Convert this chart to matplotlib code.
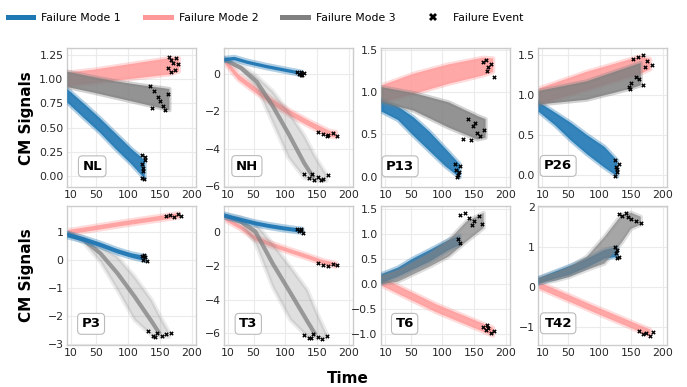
import matplotlib
matplotlib.use("Agg")
import matplotlib.pyplot as plt
from matplotlib.lines import Line2D

# ---------------- data ----------------
MODE_NAMES = ["Failure Mode 1", "Failure Mode 2", "Failure Mode 3", "Failure Event"]
PANEL_NAMES = ["NL", "NH", "P13", "P26", "P3", "T3", "T6", "T42"]
X_TICKS = [10, 50, 100, 150, 200]

# each band: (time, lower envelope, upper envelope)
NL_M1 = ([4, 30, 55, 80, 105, 126], [0.76, 0.60, 0.45, 0.28, 0.12, -0.03], [0.90, 0.75, 0.60, 0.44, 0.28, 0.16])
NL_M2 = ([4, 45, 85, 125, 165, 180], [0.93, 0.96, 0.99, 1.02, 1.05, 1.08], [1.07, 1.10, 1.14, 1.18, 1.22, 1.22])
NL_M3 = ([4, 40, 80, 120, 165], [0.92, 0.87, 0.81, 0.75, 0.68], [1.08, 1.03, 0.98, 0.94, 0.90])
NL_FAIL_T = [121, 122, 124, 121, 126, 123, 125, 127, 164, 167, 171, 176, 168, 163, 179, 173, 134, 141, 147, 150, 155, 163, 138, 158]
NL_FAIL_Y = [0.22, 0.12, 0.05, -0.02, 0.16, 0.08, -0.03, 0.19, 1.23, 1.20, 1.17, 1.22, 1.08, 1.12, 1.16, 1.10, 0.93, 0.88, 0.82, 0.78, 0.72, 0.85, 0.70, 0.68]

NH_M1 = ([4, 20, 40, 70, 100, 126], [0.71, 0.76, 0.56, 0.33, 0.13, -0.04], [0.89, 0.94, 0.74, 0.51, 0.31, 0.14])
NH_M2 = ([4, 26, 53, 80, 108, 140, 170, 180], [0.60, -0.30, -1.00, -1.65, -2.25, -2.85, -3.35, -3.40], [0.90, 0.00, -0.70, -1.35, -1.95, -2.55, -3.05, -3.10])
NH_M3 = ([4, 30, 55, 80, 105, 130, 150, 165], [0.75, 0.20, -0.70, -2.60, -4.50, -5.60, -5.75, -5.75], [0.85, 0.50, -0.10, -0.90, -2.00, -3.30, -4.60, -5.40])
NH_M3_CORE = ([4, 30, 55, 80, 105, 130, 145], [0.80, 0.35, -0.40, -1.70, -3.20, -4.80, -5.60])
NH_FAIL_T = [119, 122, 125, 127, 129, 124, 152, 160, 168, 175, 182, 165, 130, 138, 145, 152, 160, 167, 142, 156]
NH_FAIL_Y = [0.10, 0.02, 0.12, -0.03, 0.05, -0.04, -3.10, -3.20, -3.25, -3.15, -3.30, -3.35, -5.40, -5.60, -5.70, -5.55, -5.65, -5.45, -5.35, -5.70]

P13_M1 = ([4, 30, 55, 80, 105, 127], [0.77, 0.67, 0.48, 0.30, 0.12, -0.01], [0.91, 0.83, 0.70, 0.53, 0.33, 0.15])
P13_M2 = ([4, 55, 110, 165, 180], [0.88, 0.98, 1.10, 1.20, 1.24], [1.08, 1.22, 1.33, 1.41, 1.40])
P13_M3 = ([4, 55, 110, 155, 168], [0.88, 0.78, 0.58, 0.44, 0.46], [1.06, 0.99, 0.88, 0.72, 0.68])
P13_FAIL_T = [120, 122, 125, 127, 123, 126, 164, 168, 172, 176, 181, 170, 133, 140, 148, 155, 160, 165, 145, 152]
P13_FAIL_Y = [0.15, 0.08, 0.02, 0.12, -0.01, 0.05, 1.36, 1.38, 1.30, 1.33, 1.18, 1.25, 0.45, 0.68, 0.60, 0.52, 0.48, 0.55, 0.43, 0.63]

P26_M1 = ([4, 30, 55, 80, 108, 128], [0.79, 0.62, 0.43, 0.26, 0.09, -0.02], [0.91, 0.78, 0.65, 0.50, 0.35, 0.18])
P26_M2 = ([4, 80, 163, 180], [0.88, 1.06, 1.26, 1.32], [1.08, 1.29, 1.48, 1.45])
P26_M3 = ([4, 80, 150, 165], [0.88, 0.94, 1.08, 1.12], [1.05, 1.17, 1.36, 1.40])
P26_FAIL_T = [124, 126, 128, 130, 125, 127, 152, 160, 168, 175, 182, 171, 146, 150, 157, 163, 168, 148]
P26_FAIL_Y = [0.18, 0.10, 0.03, 0.14, -0.02, 0.07, 1.45, 1.48, 1.50, 1.42, 1.38, 1.35, 1.10, 1.15, 1.23, 1.20, 1.12, 1.08]

P3_M1 = ([4, 30, 56, 83, 105, 127], [0.80, 0.64, 0.45, 0.22, 0.07, -0.05], [0.96, 0.80, 0.61, 0.38, 0.23, 0.13])
P3_M2 = ([4, 90, 180], [0.89, 1.20, 1.50], [1.05, 1.36, 1.66])
P3_M3 = ([4, 30, 56, 83, 110, 137, 150, 165], [0.90, 0.60, -0.07, -1.08, -2.15, -2.70, -2.75, -2.75], [0.98, 0.80, 0.47, 0.11, -0.60, -1.43, -2.00, -2.60])
P3_M3_CORE = ([4, 30, 56, 83, 110, 137, 150], [0.94, 0.70, 0.23, -0.48, -1.31, -2.20, -2.65])
P3_FAIL_T = [121, 124, 127, 129, 125, 160, 166, 172, 178, 184, 132, 139, 146, 153, 160, 167, 142]
P3_FAIL_Y = [0.12, 0.00, 0.08, -0.05, 0.16, 1.55, 1.60, 1.52, 1.62, 1.57, -2.55, -2.70, -2.60, -2.72, -2.65, -2.62, -2.74]

T3_M1 = ([4, 30, 53, 75, 97, 127], [0.83, 0.58, 0.37, 0.21, 0.08, -0.07], [1.07, 0.82, 0.61, 0.45, 0.32, 0.17])
T3_M2 = ([4, 30, 53, 80, 108, 135, 160, 180], [0.68, 0.13, -0.51, -0.91, -1.27, -1.60, -1.92, -2.07], [0.92, 0.37, -0.27, -0.67, -1.03, -1.36, -1.68, -1.83])
T3_M3 = ([4, 30, 53, 80, 108, 135, 150, 165], [0.90, 0.45, -0.69, -3.25, -5.20, -6.20, -6.30, -6.30], [1.00, 0.85, 0.49, -0.70, -2.07, -3.44, -4.80, -6.00])
T3_M3_CORE = ([4, 30, 53, 80, 108, 135, 148], [0.95, 0.60, 0.00, -1.87, -3.60, -5.30, -6.10])
T3_FAIL_T = [119, 122, 125, 128, 124, 152, 160, 168, 175, 182, 130, 137, 144, 151, 158, 165, 141]
T3_FAIL_Y = [0.15, 0.02, 0.10, -0.05, 0.18, -1.85, -1.95, -2.00, -1.90, -1.97, -6.10, -6.25, -6.05, -6.20, -6.30, -6.15, -6.28]

T6_M1 = ([4, 30, 55, 80, 110, 127], [0.02, 0.15, 0.30, 0.45, 0.68, 0.78], [0.20, 0.33, 0.52, 0.68, 0.88, 0.97])
T6_M2 = ([4, 90, 180], [-0.03, -0.56, -1.03], [0.13, -0.40, -0.87])
T6_M3 = ([4, 30, 55, 80, 110, 138, 165], [0.00, 0.05, 0.20, 0.35, 0.55, 0.85, 1.12], [0.17, 0.28, 0.45, 0.62, 0.88, 1.25, 1.42])
T6_FAIL_T = [125, 127, 164, 168, 172, 177, 181, 170, 128, 135, 142, 150, 157, 163, 146]
T6_FAIL_Y = [0.90, 0.82, -0.85, -0.92, -0.88, -0.97, -0.94, -0.81, 1.38, 1.41, 1.32, 1.25, 1.36, 1.20, 1.18]

T42_M1 = ([4, 30, 53, 80, 108, 128], [0.08, 0.20, 0.30, 0.48, 0.70, 0.75], [0.22, 0.38, 0.52, 0.70, 0.92, 1.00])
T42_M2 = ([4, 90, 180], [-0.04, -0.63, -1.23], [0.12, -0.47, -1.07])
T42_M3 = ([4, 30, 53, 80, 108, 135, 150, 165], [0.08, 0.15, 0.25, 0.42, 0.58, 1.10, 1.45, 1.55], [0.22, 0.35, 0.50, 0.75, 1.25, 1.80, 1.85, 1.75])
T42_FAIL_T = [124, 126, 128, 130, 127, 163, 168, 174, 180, 184, 131, 136, 141, 150, 158, 165, 145]
T42_FAIL_Y = [1.00, 0.85, 0.92, 0.75, 0.72, -1.10, -1.18, -1.15, -1.22, -1.12, 1.83, 1.78, 1.85, 1.70, 1.65, 1.60, 1.75]

NL_YTICKS = [0.0, 0.25, 0.5, 0.75, 1.0, 1.25]
NH_YTICKS = [-6, -4, -2, 0]
P13_YTICKS = [0.0, 0.5, 1.0, 1.5]
P26_YTICKS = [0.0, 0.5, 1.0, 1.5]
P3_YTICKS = [-3, -2, -1, 0, 1]
T3_YTICKS = [-6, -4, -2, 0]
T6_YTICKS = [-1.0, -0.5, 0.0, 0.5, 1.0, 1.5]
T42_YTICKS = [-1, 0, 1, 2]

# ---------------- styling ----------------
C_BLUE = "#1f77b4"
C_PINK = "#ff9999"
C_GREY = "#808080"
FS = 7.8

panels = [
    ("NL", NL_M1, NL_M2, NL_M3, None, NL_FAIL_T, NL_FAIL_Y, NL_YTICKS, (-0.115, 1.325), "{:.2f}", (0.196, 0.148)),
    ("NH", NH_M1, NH_M2, NH_M3, NH_M3_CORE, NH_FAIL_T, NH_FAIL_Y, NH_YTICKS, (-6.07, 1.42), "{:.0f}", (0.177, 0.15)),
    ("P13", P13_M1, P13_M2, P13_M3, None, P13_FAIL_T, P13_FAIL_Y, P13_YTICKS, (-0.122, 1.524), "{:.1f}", (0.147, 0.148)),
    ("P26", P26_M1, P26_M2, P26_M3, None, P26_FAIL_T, P26_FAIL_Y, P26_YTICKS, (-0.15, 1.587), "{:.1f}", (0.154, 0.151)),
    ("P3", P3_M1, P3_M2, P3_M3, P3_M3_CORE, P3_FAIL_T, P3_FAIL_Y, P3_YTICKS, (-3.03, 1.915), "{:.0f}", (0.187, 0.151)),
    ("T3", T3_M1, T3_M2, T3_M3, T3_M3_CORE, T3_FAIL_T, T3_FAIL_Y, T3_YTICKS, (-6.67, 1.52), "{:.0f}", (0.188, 0.151)),
    ("T6", T6_M1, T6_M2, T6_M3, None, T6_FAIL_T, T6_FAIL_Y, T6_YTICKS, (-1.21, 1.56), "{:.1f}", (0.182, 0.151)),
    ("T42", T42_M1, T42_M2, T42_M3, None, T42_FAIL_T, T42_FAIL_Y, T42_YTICKS, (-1.45, 2.02), "{:.0f}", (0.154, 0.155)),
]

fig, axes = plt.subplots(2, 4, figsize=(6.87, 3.87), dpi=100)
fig.subplots_adjust(left=0.0975, right=0.971, top=0.876, bottom=0.109, wspace=0.22, hspace=0.137)


def band(ax, data, color, alpha, z, fringe=0.35):
    t, lo, hi = data
    # soft fringe imitating the scatter of the individual noisy trajectories
    ax.fill_between(t, lo, hi, facecolor="none", edgecolor=color, linewidth=3.0,
                    alpha=fringe, zorder=z)
    ax.fill_between(t, lo, hi, facecolor=color, edgecolor="none", linewidth=0,
                    alpha=alpha, zorder=z)


for ax, (name, m1, m2, m3, core, ft, fy, yt, yl, fmt, lpos) in zip(axes.flat, panels):
    spaghetti = core is not None
    band(ax, m2, C_PINK, 0.85, 2)
    if spaghetti:
        band(ax, m3, C_GREY, 0.25, 3, fringe=0.15)
        ax.plot(core[0], core[1], color=C_GREY, lw=3.0, alpha=0.75, zorder=3.5,
                solid_capstyle="butt")
        band(ax, m1, C_BLUE, 0.95, 4)
    elif name in ("T6", "T42"):
        band(ax, m1, C_BLUE, 0.9, 3)
        band(ax, m3, C_GREY, 0.7, 4, fringe=0.25)
    else:
        band(ax, m1, C_BLUE, 0.9, 3)
        band(ax, m3, C_GREY, 0.85, 4)
    ax.scatter(ft, fy, marker="X", s=10, color="black", linewidths=0, zorder=6)

    ax.set_xlim(3.5, 206.5)
    ax.set_ylim(*yl)
    ax.set_xticks(X_TICKS)
    ax.set_yticks(yt)
    ax.set_yticklabels([fmt.format(v).replace("-", "\u2212") for v in yt])
    ax.tick_params(axis="both", length=0, labelsize=FS, pad=2.5, colors="#262626")
    ax.grid(True, color="#ebebeb", lw=0.8, zorder=0)
    ax.set_axisbelow(True)
    for sp in ax.spines.values():
        sp.set_color("#cccccc")
        sp.set_linewidth(1.0)
    ax.text(lpos[0], lpos[1], name, transform=ax.transAxes, ha="center", va="center",
            fontsize=9.5, fontweight="bold", zorder=7,
            bbox=dict(boxstyle="round,pad=0.3", fc="white", ec="#bbbbbb", lw=0.8))

fig.text(0.039, 0.695, "CM Signals", rotation=90, ha="center", va="center",
         fontsize=11, fontweight="bold")
fig.text(0.039, 0.288, "CM Signals", rotation=90, ha="center", va="center",
         fontsize=11, fontweight="bold")
fig.text(0.507, 0.023, "Time", ha="center", va="center", fontsize=11, fontweight="bold")

handles = [
    Line2D([], [], color=C_BLUE, lw=3.6),
    Line2D([], [], color=C_PINK, lw=3.6),
    Line2D([], [], color=C_GREY, lw=3.6),
    Line2D([], [], color="black", marker="X", ls="none", markersize=6, markeredgewidth=0),
]
fig.legend(handles, MODE_NAMES, loc="center left", bbox_to_anchor=(0.0065, 0.953), ncol=4,
           frameon=False, fontsize=FS, handlelength=2.35, handletextpad=0.75,
           columnspacing=2.23, borderaxespad=0, borderpad=0.3)

fig.savefig("out.png", dpi=100)
